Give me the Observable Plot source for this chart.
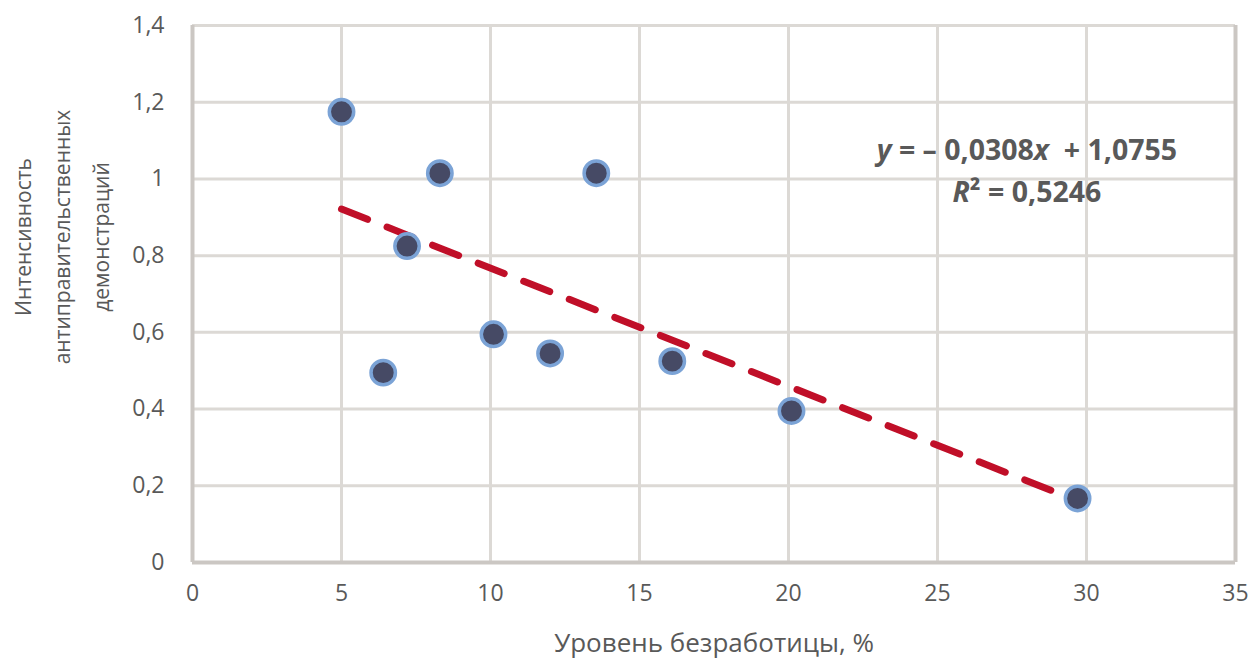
<!DOCTYPE html>
<html><head><meta charset="utf-8">
<script src="https://cdn.jsdelivr.net/npm/d3@7"></script>
<script src="https://cdn.jsdelivr.net/npm/@observablehq/plot@0.6"></script>
<style>body{margin:0;background:#fff;overflow:hidden} svg{display:block}</style>
</head><body><div id="chart"></div>
<script>
// Data
const unemployment = [5.0, 8.3, 13.55, 7.2, 6.4, 10.1, 12.0, 16.1, 20.1, 29.7];
const intensity    = [1.175, 1.015, 1.015, 0.825, 0.495, 0.595, 0.545, 0.525, 0.395, 0.167];
const xTicks = [0, 5, 10, 15, 20, 25, 30, 35];
const yTicks = [0, 0.2, 0.4, 0.6, 0.8, 1.0, 1.2, 1.4];
const trendSlope = -0.0308;
const trendIntercept = 1.0755;
const equationText = ["y = – 0,0308x + 1,0755", "R² = 0,5246"];
const equationPos = {x: [28.0, 28.0], y: [1.072, 0.963]};
const xLabel = "Уровень безработицы, %";
const yLabelLines = ["Интенсивность", "антиправительственных", "демонстраций"];

const points = unemployment.map((u, i) => ({x: u, y: intensity[i]}));
const xMin = d3.min(unemployment), xMax = d3.max(unemployment);
const trend = [xMin, xMax].map(x => ({x, y: trendSlope * x + trendIntercept}));
const eq = equationText.map((t, i) => ({t, x: equationPos.x[i], y: equationPos.y[i]}));
const fmt = d => String(+d.toFixed(1)).replace(".", ",");

const textColor = "#595959";
const font = "Open Sans, sans-serif";

const chart = Plot.plot({
  width: 1255,
  height: 659,
  marginLeft: 192,
  marginRight: 20,
  marginTop: 25,
  marginBottom: 97,
  style: {fontFamily: font, color: textColor, background: "#fff"},
  x: {domain: [0, 35], ticks: xTicks, label: null},
  y: {domain: [0, 1.4], ticks: yTicks, label: null},
  marks: [
    Plot.gridX(xTicks, {stroke: "#dcd9d5", strokeOpacity: 1, strokeWidth: 3}),
    Plot.gridY(yTicks, {stroke: "#dcd9d5", strokeOpacity: 1, strokeWidth: 3}),
    Plot.ruleX([0, 35], {stroke: "#cbc7c3", strokeWidth: 4}),
    Plot.ruleY([0], {stroke: "#cbc7c3", strokeWidth: 4}),
    Plot.axisX(xTicks, {tickSize: 0, tickPadding: 22, tickFormat: fmt, fontSize: 23, fill: textColor}),
    Plot.axisY(yTicks, {tickSize: 0, tickPadding: 28, tickFormat: fmt, fontSize: 23, fill: textColor}),
    Plot.line(trend, {x: "x", y: "y", stroke: "#c00f28", strokeWidth: 7, strokeDasharray: "28,21", strokeLinecap: "round"}),
    Plot.dot(points, {x: "x", y: "y", r: 12.2, fill: "#464a65", stroke: "#7ba3d6", strokeWidth: 3.5}),
    Plot.text(eq, {x: "x", y: "y", text: "t", fontSize: 28.5, fontWeight: "bold", fill: textColor, textAnchor: "middle", className: "eq"}),
    Plot.text([xLabel], {frameAnchor: "bottom", dy: 89, fontSize: 26, fill: textColor})
  ]
});
document.getElementById("chart").append(chart);

// italic variables in the trend equation
d3.select(chart).selectAll("g.eq text").each(function() {
  const el = d3.select(this);
  const t = el.text();
  el.text(null);
  if (t.startsWith("y")) {
    el.append("tspan").attr("font-style", "italic").text("y");
    el.append("tspan").text(" = – 0,0308");
    el.append("tspan").attr("font-style", "italic").text("x");
    el.append("tspan").text("  + 1,0755");
  } else {
    el.append("tspan").attr("font-style", "italic").text("R");
    el.append("tspan").text("² = 0,5246");
  }
});

// three-line rotated y-axis title
const yTitle = d3.select(chart).append("g")
  .attr("transform", "translate(63,237) rotate(-90)")
  .attr("font-family", font).attr("font-size", 21).attr("fill", textColor)
  .attr("text-anchor", "middle");
yLabelLines.forEach((line, i) => {
  yTitle.append("text").attr("x", 0).attr("y", (i - 1) * 39).attr("dy", "0.35em").text(line);
});
</script>
</body></html>
